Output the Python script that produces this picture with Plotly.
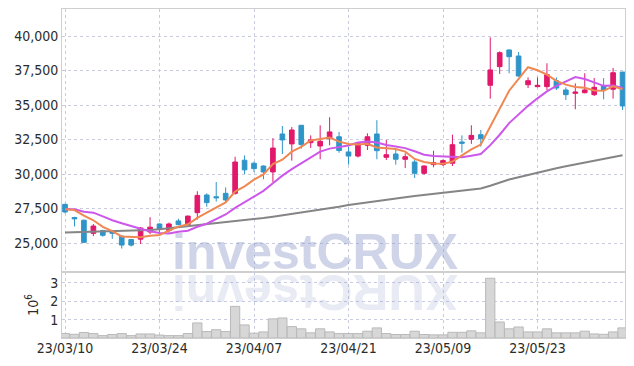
import pandas as pd
import plotly.graph_objects as go
from plotly.subplots import make_subplots

# ---------------- data ----------------
dates = [
    "2023-03-10",
    "2023-03-13", "2023-03-14", "2023-03-15", "2023-03-16", "2023-03-17",
    "2023-03-20", "2023-03-21", "2023-03-22", "2023-03-23", "2023-03-24",
    "2023-03-27", "2023-03-28", "2023-03-29", "2023-03-30", "2023-03-31",
    "2023-04-03", "2023-04-04", "2023-04-05", "2023-04-06", "2023-04-07",
    "2023-04-10", "2023-04-11", "2023-04-12", "2023-04-13", "2023-04-14",
    "2023-04-17", "2023-04-18", "2023-04-19", "2023-04-20", "2023-04-21",
    "2023-04-24", "2023-04-25", "2023-04-26", "2023-04-27", "2023-04-28",
    "2023-05-02", "2023-05-03", "2023-05-04", "2023-05-08", "2023-05-09",
    "2023-05-10", "2023-05-11", "2023-05-12", "2023-05-15", "2023-05-16",
    "2023-05-17", "2023-05-18", "2023-05-19", "2023-05-22", "2023-05-23",
    "2023-05-24", "2023-05-25", "2023-05-26", "2023-05-30", "2023-05-31",
    "2023-06-01", "2023-06-02", "2023-06-05", "2023-06-07",
]

opens = [27800, 26850, 26650, 25700, 25900, 25880, 25500, 25250, 25280, 25800,
         26380, 25900, 26600, 26330, 27200, 28480, 28350, 28600, 28600, 31000,
         30780, 30580, 30150, 32900, 32180, 33530, 32270, 32030, 32560, 32700,
         31600, 31300, 32080, 32900, 31210, 31450, 31065, 30870, 30050, 30680,
         30680, 30780, 32320, 32515, 32850, 36430, 37780, 38990, 38550, 36470,
         36330, 36330, 36760, 36090, 35845, 35890, 35750, 36380, 36140, 37390]
highs = [27850, 26900, 26700, 26380, 25950, 25920, 25550, 25300, 26150, 26870,
         26420, 26480, 26760, 27000, 28750, 28600, 29420, 29030, 31250, 31350,
         30900, 30620, 32600, 33480, 33400, 33550, 32800, 33530, 34110, 33050,
         31980, 32250, 32950, 33900, 32470, 31740, 31500, 31070, 30630, 31690,
         31060, 32850, 32800, 33530, 33190, 39900, 38890, 39000, 38840, 37000,
         37000, 38020, 37000, 36280, 36570, 37300, 36950, 36950, 37680, 37390]
lows = [27150, 26200, 25000, 25500, 25450, 25300, 24600, 24750, 24930, 25650,
        25700, 25750, 26300, 26300, 26700, 27630, 28000, 27950, 28500, 30000,
        30150, 29620, 29420, 31450, 30970, 31830, 31890, 31070, 32080, 31540,
        30680, 31200, 31740, 31070, 31015, 30680, 30440, 29710, 29950, 30490,
        30580, 30580, 31550, 32180, 31980, 35460, 37250, 37300, 37050, 36230,
        36280, 36090, 36090, 35360, 34690, 35845, 35650, 35410, 35460, 34640]
closes = [27250, 26750, 25050, 26230, 25560, 25700, 24850, 24850, 26090, 26150,
          26000, 26380, 26330, 26950, 28450, 27930, 28280, 28120, 30870, 30300,
          30390, 30150, 31880, 32470, 33190, 32130, 32470, 32370, 33050, 31700,
          31300, 32230, 32700, 31690, 31400, 31070, 31255, 30050, 30580, 30820,
          30970, 32125, 32225, 32800, 32560, 37540, 38790, 38500, 37100, 36760,
          36430, 37200, 36230, 35750, 35940, 36090, 36280, 36090, 37340, 34930]

# closes of the nine sessions before the window (estimated from where the averages start)
prior_closes = [26700, 26800, 26930, 28300, 28470, 27000, 27100, 27900, 27950]

# long moving average (grey line) at each session
ma_long = [25760, 25775, 25790, 25805, 25820, 25840, 25860, 25880, 25900, 25940,
           25990, 26060, 26130, 26200, 26270, 26340, 26410, 26490, 26570, 26650,
           26710, 26810, 26910, 27010, 27110, 27200, 27290, 27390, 27500, 27630,
           27760, 27860, 27960, 28060, 28150, 28240, 28320, 28400, 28480, 28560,
           28645, 28720, 28800, 28880, 28950, 29150, 29380, 29600, 29770, 29940,
           30110, 30280, 30420, 30560, 30700, 30850, 30990, 31120, 31250, 31360]

volumes = [240000, 200000, 300000, 240000, 130000, 190000, 240000, 130000, 220000, 220000,
           160000, 130000, 130000, 240000, 820000, 350000, 450000, 350000, 1720000, 710000,
           260000, 330000, 1040000, 1090000, 620000, 500000, 280000, 500000, 330000, 240000,
           240000, 240000, 370000, 550000, 240000, 190000, 190000, 370000, 190000, 170000,
           170000, 310000, 310000, 390000, 280000, 3250000, 870000, 500000, 600000, 330000,
           330000, 500000, 280000, 280000, 280000, 370000, 220000, 200000, 330000, 550000]

tick_dates = ["2023-03-10", "2023-03-24", "2023-04-07", "2023-04-21", "2023-05-09", "2023-05-23"]
tick_labels = ["23/03/10", "23/03/24", "23/04/07", "23/04/21", "23/05/09", "23/05/23"]

price_ticks = [25000, 27500, 30000, 32500, 35000, 37500, 40000]
volume_ticks = [1, 2, 3]

# ---------------- derived series ----------------
all_closes = pd.Series(prior_closes + closes, dtype=float)
n_prior = len(prior_closes)
ma5 = all_closes.rolling(5).mean().iloc[n_prior:].tolist()
ma10 = all_closes.rolling(10).mean().iloc[n_prior:].tolist()
volumes_m = [v / 1e6 for v in volumes]

# ---------------- styling ----------------
UP = "#e2186b"
DOWN = "#2f95c8"
GRID = "#c9cce0"
BORDER = "#cfcfcf"
FONT = "Liberation Sans Narrow, DejaVu Sans Condensed, Roboto, sans-serif"
TXT = "#2b2b2b"
SPLIT = 0.2006  # share of plot height used by the volume panel

fig = make_subplots(rows=2, cols=1, shared_xaxes=True, vertical_spacing=0)

fig.add_trace(go.Candlestick(
    x=dates, open=opens, high=highs, low=lows, close=closes,
    increasing=dict(line=dict(color=UP, width=1), fillcolor=UP),
    decreasing=dict(line=dict(color=DOWN, width=1), fillcolor=DOWN),
    showlegend=False, hoverinfo="skip",
), row=1, col=1)

fig.add_trace(go.Scatter(x=dates, y=ma_long, mode="lines",
                         line=dict(color="#858585", width=2), showlegend=False), row=1, col=1)
fig.add_trace(go.Scatter(x=dates, y=ma10, mode="lines",
                         line=dict(color="#cd57ea", width=2), showlegend=False), row=1, col=1)
fig.add_trace(go.Scatter(x=dates, y=ma5, mode="lines",
                         line=dict(color="#ef8852", width=2), showlegend=False), row=1, col=1)

fig.add_trace(go.Bar(x=dates, y=volumes_m,
                     marker=dict(color="#d7d7d7", line=dict(color="#b9b9b9", width=1)),
                     showlegend=False), row=2, col=1)

xrange = [-0.32, 59.26]
common_x = dict(type="category", range=xrange, showgrid=True, gridcolor=GRID,
                griddash="dot", gridwidth=1, tickmode="array", tickvals=tick_dates,
                ticktext=tick_labels, showline=True, linecolor=BORDER, linewidth=1,
                mirror=True, zeroline=False, ticks="", automargin=False,
                tickfont=dict(family=FONT, size=14, color=TXT, weight=500))

# the page body has an 8px margin, so the figure is sized to fit inside it
fig.update_layout(
    width=626, height=358,
    margin=dict(l=54, r=9, t=1, b=28),
    paper_bgcolor="white", plot_bgcolor="white",
    bargap=0.02,
    hovermode=False,
    xaxis=dict(**common_x, showticklabels=False, rangeslider=dict(visible=False)),
    xaxis2=dict(**common_x, showticklabels=True, ticklabelstandoff=-3),
    yaxis=dict(domain=[SPLIT, 1], range=[22900, 41956], tickvals=price_ticks,
               tickformat=",d", showgrid=True, gridcolor=GRID, griddash="dot",
               showline=True, linecolor=BORDER, mirror=True, zeroline=False, ticks="",
               automargin=False,
               tickfont=dict(family=FONT, size=14, color=TXT, weight=500)),
    yaxis2=dict(domain=[0, SPLIT], range=[0, 3.59], tickvals=volume_ticks,
                showgrid=True, gridcolor=GRID, griddash="dot",
                showline=True, linecolor=BORDER, mirror=True, zeroline=False, ticks="",
                automargin=False,
                tickfont=dict(family=FONT, size=14, color=TXT, weight=500),
                title=dict(text="10<sup>6</sup>", font=dict(family=FONT, size=14, color=TXT),
                           standoff=8)),
)

# watermark and its reflection
wm_x = (315 - 62) / 563
fig.add_annotation(text="investCRUX", xref="paper", yref="paper", x=wm_x, y=SPLIT,
                   xanchor="center", yanchor="bottom", yshift=-10, showarrow=False,
                   font=dict(family="Liberation Sans, Arial, sans-serif", size=50,
                             color="rgba(140,152,200,0.42)", weight="bold"))
fig.add_annotation(text="XURCtsevni", xref="paper", yref="paper", x=wm_x, y=SPLIT,
                   xanchor="center", yanchor="top", yshift=10, showarrow=False,
                   textangle=180,
                   font=dict(family="Liberation Sans, Arial, sans-serif", size=50,
                             color="rgba(140,152,200,0.2)", weight="bold"))

fig.write_html("out.html")
